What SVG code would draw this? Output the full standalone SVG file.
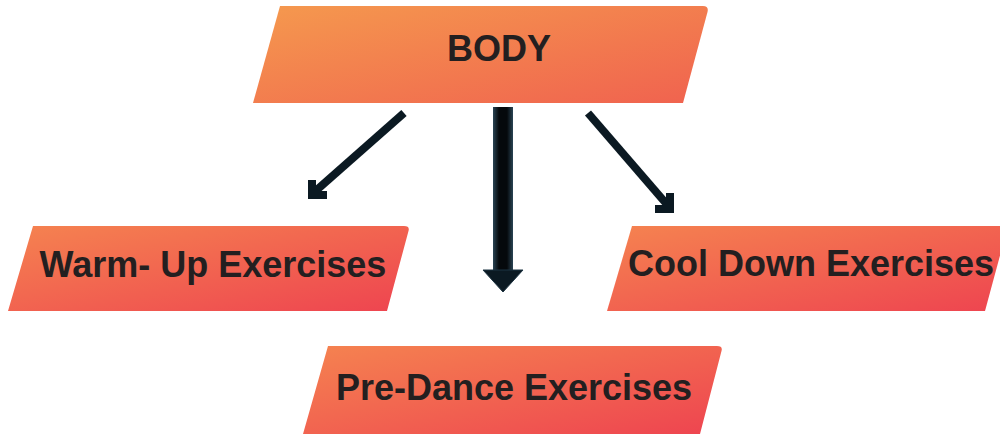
<svg xmlns="http://www.w3.org/2000/svg" width="1000" height="434" viewBox="0 0 1000 434">
  <style>
    .lbl { font-family: "Liberation Sans", Arial, sans-serif; font-weight: bold; font-size: 36px; fill: #231f20; text-anchor: middle; }
    .arr { stroke: #0b1922; fill: none; stroke-width: 8; }
  </style>
  <defs>
    <linearGradient id="gTop" x1="0" y1="0" x2="1" y2="1">
      <stop offset="0" stop-color="#f5994e"/>
      <stop offset="1" stop-color="#f0624f"/>
    </linearGradient>
    <linearGradient id="gLow" x1="0" y1="0" x2="1" y2="1">
      <stop offset="0" stop-color="#f58350"/>
      <stop offset="1" stop-color="#ee4450"/>
    </linearGradient>
    <linearGradient id="gShaft" x1="0" y1="0" x2="1" y2="0">
      <stop offset="0" stop-color="#2a4454"/>
      <stop offset="0.3" stop-color="#05090c"/>
      <stop offset="0.7" stop-color="#05090c"/>
      <stop offset="1" stop-color="#2a4454"/>
    </linearGradient>
  </defs>

  <g id="connectors">
    <line class="arr" x1="404" y1="113" x2="311" y2="195"/>
    <path class="arr" d="M312 180 L312 195 L327 195" stroke-linejoin="miter"/>
    <line class="arr" x1="588" y1="113" x2="670" y2="208"/>
    <path class="arr" d="M655 209 L670 209 L670 193" stroke-linejoin="miter"/>
    <rect x="493" y="107" width="20" height="166" fill="url(#gShaft)"/>
    <polygon points="483,270 523,270 503,292" fill="#0b1922" stroke="#1d3442" stroke-width="1"/>
  </g>

  <g id="node-body">
    <path d="M280 6 L703 6 Q709 6 707.5 12 L683 103 L253 103 Z" fill="url(#gTop)"/>
    <text class="lbl" x="499" y="61">BODY</text>
  </g>

  <g id="node-warmup">
    <path d="M33 226 L404 226 Q410 226 408.5 231 L387 311 L8 311 Z" fill="url(#gLow)"/>
    <text class="lbl" x="213" y="277">Warm- Up Exercises</text>
  </g>

  <g id="node-cooldown">
    <path d="M632 226 L1008 226 L985 311 L607 311 Z" fill="url(#gLow)"/>
    <text class="lbl" x="811" y="276">Cool Down Exercises</text>
  </g>

  <g id="node-predance">
    <path d="M328 346 L717 346 Q723 346 721.5 351 L700 434 L303 434 Z" fill="url(#gLow)"/>
    <text class="lbl" x="514" y="400">Pre-Dance Exercises</text>
  </g>
</svg>
